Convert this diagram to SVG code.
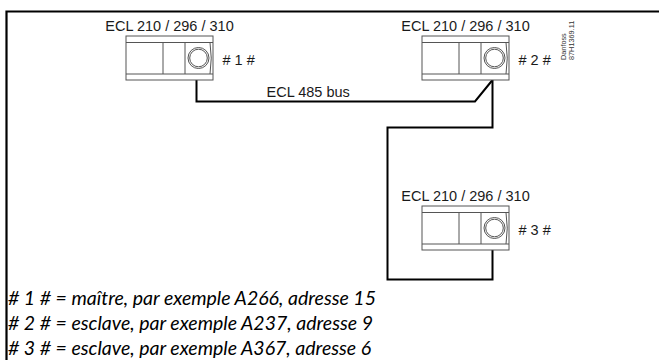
<svg xmlns="http://www.w3.org/2000/svg" width="659" height="360" viewBox="0 0 659 360">
  <style>
    .lbl { font-family: "Liberation Sans", Arial, sans-serif; font-size: 14.5px; fill: #1a1a1a; }
    .tag { font-family: "Liberation Sans", Arial, sans-serif; font-size: 7.3px; fill: #333; }
    .leg { font-family: Lato, "Open Sans", sans-serif; font-style: italic; font-size: 19.5px; fill: #000; }
    .dev { fill: none; stroke: #555; stroke-width: 1; }
    .wire { fill: none; stroke: #000; stroke-width: 2; stroke-linejoin: miter; }
  </style>
  <defs>
    <g id="ecl">
      <rect x="0" y="0" width="87" height="44" fill="#fff" stroke="#555" stroke-width="1"/>
      <path class="dev" d="M0,6.5 H87 M0,38 H87 M37,6.5 V38 M59,6.5 V38 M84,6.5 Q86.5,22 84,38"/>
      <circle class="dev" cx="72.5" cy="22" r="10.5" stroke="#666" stroke-width="0.9"/>
      <circle class="dev" cx="72.5" cy="22" r="8.8" stroke="#888" stroke-width="0.8"/>
    </g>
  </defs>

  <rect width="659" height="360" fill="#fff"/>
  <path d="M6.5,360 V11.5 H659" fill="none" stroke="#000" stroke-width="2.2"/>

  <g id="connectors">
    <path class="wire" d="M196.5,80 V101.5 H475 L492.5,80"/>
    <path class="wire" d="M492.5,80 V127.5 H387.5 V279.5 H492.5 V250"/>
    <text class="lbl" x="266.5" y="96.5">ECL 485 bus</text>
  </g>

  <g id="node1">
    <use href="#ecl" x="126" y="36"/>
    <text class="lbl" x="169.5" y="31" text-anchor="middle">ECL 210 / 296 / 310</text>
    <text class="lbl" x="222.5" y="65"># 1 #</text>
  </g>

  <g id="node2">
    <use href="#ecl" x="422" y="36"/>
    <text class="lbl" x="465.5" y="31" text-anchor="middle">ECL 210 / 296 / 310</text>
    <text class="lbl" x="518.5" y="65"># 2 #</text>
  </g>

  <g id="node3">
    <use href="#ecl" x="422" y="206"/>
    <text class="lbl" x="465.5" y="201" text-anchor="middle">ECL 210 / 296 / 310</text>
    <text class="lbl" x="518.5" y="235"># 3 #</text>
  </g>

  <g id="code">
    <text class="tag" transform="translate(565.5,60) rotate(-90)">Danfoss</text>
    <text class="tag" transform="translate(573.5,60) rotate(-90)">87H1369.11</text>
  </g>

  <g id="legend">
    <text class="leg" x="8" y="305"># 1 # = maître, par exemple A266, adresse 15</text>
    <text class="leg" x="8" y="330"># 2 # = esclave, par exemple A237, adresse 9</text>
    <text class="leg" x="8" y="355"># 3 # = esclave, par exemple A367, adresse 6</text>
  </g>
</svg>
